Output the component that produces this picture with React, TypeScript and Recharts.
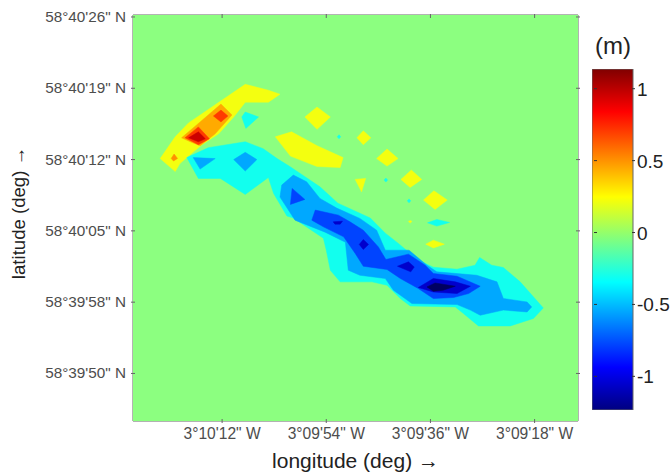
import { ComposedChart, Scatter, XAxis, YAxis } from "recharts";

// positions are arc-seconds: longitude = seconds west of 3 deg, latitude = seconds from 58 deg 40'
const lonTicks = [612, 594, 576, 558];
const lonLabels = ["3°10'12\" W", "3°09'54\" W", "3°09'36\" W", "3°09'18\" W"];
const latTicks = [26.4, 19.2, 12, 4.8, -2.4, -9.6];
const latLabels = ["58°40'26\" N", "58°40'19\" N", "58°40'12\" N", "58°40'05\" N", "58°39'58\" N", "58°39'50\" N"];
const lonDomain = [550.5, 627.4];
const latDomain = [-14.4, 26.6];

const barTicks = [-1, -0.5, 0, 0.5, 1];
const barDomain = [-1.234, 1.137];
const jetStops = ["#000080", "#0000ff", "#00ffff", "#ffff00", "#ff0000", "#800000"];
const jetOffsets = ["0%", "12.5%", "37.5%", "62.5%", "87.5%", "100%"];

const levelGreen = "#8cff80";
const levelYellow = "#f4ff10";
const levelOrange = "#ffaa00";
const levelRed = "#ff3a00";
const levelDarkRed = "#cc0000";
const levelCyan = "#12ffee";
const levelSky = "#00a8ff";
const levelBlue = "#0044ff";
const levelDeep = "#0000cc";
const levelNavy = "#000060";

const seabed = [[lonDomain[0], latDomain[0]], [lonDomain[1], latDomain[0]], [lonDomain[1], latDomain[1]], [lonDomain[0], latDomain[1]]];

const ridgeYellow = [[622.7, 12.1], [620.1, 14.3], [617.8, 15.7], [608, 19.6], [604, 19], [602, 18.6], [604, 17.8], [608, 17.8], [610, 16.3], [612.6, 14.6], [615.5, 13.5], [618.1, 12.2], [619.3, 11.6], [620.1, 10.8]];
const ridgeOrange = [[612.2, 17.6], [610.3, 16.5], [613.2, 14.6], [615.8, 13.4], [617.5, 13.8], [619, 14.2], [616.4, 15.5]];
const ridgeRedUpper = [[612.2, 17], [611, 16.4], [612.2, 15.8], [613.5, 16.4]];
const ridgeRedLower = [[616.1, 15.3], [614.2, 14.1], [616.1, 13.5], [618.4, 14.2]];
const ridgeCore = [[616.1, 14.8], [614.9, 14.1], [616.1, 13.8], [617.8, 14.2]];
const ridgeSpot = [[620.3, 12.56], [619.7, 12.12], [620.4, 11.85], [620.8, 12.12]];

const yellowBand = [[602.8, 14.3], [600, 14.8], [595.6, 13.4], [591.1, 12.2], [591.6, 11.2], [595.6, 11.3], [600.2, 12.35]];
const yellowDiamonds = [
  [[595.6, 17.3], [593.3, 16.3], [595.6, 15.05], [597.7, 16.3]],
  [[587.6, 14.9], [586.3, 14.2], [587.6, 13.5], [588.7, 14.2]],
  [[583.5, 13.06], [581.6, 12.1], [583.5, 11.34], [585.3, 12.1]],
  [[579.3, 10.94], [577.5, 10], [579.5, 9.19], [581.1, 10]],
  [[575.4, 8.85], [573.1, 7.91], [575.2, 6.97], [577.2, 7.91]],
  [[589, 10], [587.2, 10.1], [587.9, 8.74]],
  [[576.8, 3.46], [575.5, 3.86], [573.6, 3.46], [575.5, 3.08]],
  [[579.8, 5.75], [579.5, 5.85], [579.2, 5.75], [579.5, 5.6]],
];
const cyanSpecks = [
  [[608, 16.8], [605.7, 16.3], [607.9, 15.15], [608.6, 16.3]],
  [[576.5, 5.61], [574.9, 5.95], [572.7, 5.65], [574.9, 5.28]],
  [[592.1, 14.3], [591.8, 14.5], [591.5, 14.3], [591.8, 14.1]],
  [[584, 9.93], [583.7, 10.13], [583.4, 9.93], [583.7, 9.73]],
  [[580, 7.83], [579.7, 8.03], [579.4, 7.83], [579.7, 7.63]],
];

const troughCyan = [[618.1, 12.2], [614.4, 13.2], [608, 13.8], [604.9, 13.1], [602.5, 12.1], [600.3, 11.3], [598, 10.4], [595.1, 9.25], [592, 7.6], [586.4, 6.1], [583.8, 4.57], [581.6, 3.56], [578.1, 1.84], [575.5, 1.13], [571.4, 0.93], [568.3, 1.33], [567.5, 2.11], [565.4, 1.33], [563.4, 1.1], [560.5, -0.35], [556.5, -2.98], [558.2, -4.05], [562.2, -4.8], [567.7, -4.8], [570.3, -3.55], [571.7, -2.88], [579.5, -2.78], [581.2, -2.03], [583.5, -0.69], [586.1, -0.35], [591.6, -0.35], [593.3, 0.83], [594, 2.85], [594.5, 4.06], [599.7, 6.1], [600.8, 6.3], [603.1, 8.58], [604, 10.2], [608, 8.48], [612.3, 10.1], [616.1, 10.1]];
const troughSky = [[601.7, 9.42], [599.7, 10.43], [597.4, 9.76], [595.1, 8.08], [592.2, 7.1], [588.2, 6.06], [585.3, 4.87], [583.8, 2.85], [579.7, 2.85], [576.6, 1.33], [574.9, 0.66], [568, 0.32], [564.5, -0.35], [563.4, -2.03], [559.3, -2.38], [558.5, -2.88], [559.3, -3.39], [563.4, -3.2], [567.4, -3.72], [569.1, -3.2], [571.4, -2.64], [579.2, -2.54], [582.4, -1.19], [583.8, -0.01], [588.2, 0.32], [590.2, 0.83], [590.7, 3.66], [594.2, 4.67], [599.4, 5.88], [602, 8.21]];
const skyLeft = [[617, 12.2], [613.2, 12.1], [615.8, 11.04]];
const skyMiddle = [[608, 12.73], [606, 12], [608, 10.84], [610, 12]];
const troughBlue = [[595.9, 6.9], [591.9, 6.39], [589.9, 5.71], [587.6, 4.87], [585, 3.18], [583.7, 1.91], [579.8, 2.45], [576.9, 1.33], [575.5, 0.5], [571.4, 0.22], [567.4, -0.79], [569.4, -1.53], [572, -1.93], [575.5, -2.03], [578.1, -1.02], [581.2, -0.01], [583.5, 0.9], [587.6, 1.23], [589, 2.52], [591, 4.2], [594.5, 5.21], [596.5, 5.88]];
const blueTriangle = [[599.9, 9.09], [597.7, 7.98], [600.2, 7.47]];
const deepPatches = [
  [[592.8, 5.71], [591.2, 5.78], [591.6, 5.48], [592.5, 5.48]],
  [[587.6, 3.93], [586.7, 3.43], [587.6, 2.92], [588.3, 3.43]],
  [[581.7, 1.23], [579.8, 1.67], [578.8, 1.16], [579.4, 0.66]],
  [[578.1, -0.92], [575.5, -0.01], [571.7, -0.35], [569.1, -0.79], [571.4, -1.53], [575.5, -1.37]],
];
const navyCore = [[576.6, -0.86], [575.2, -0.46], [571.7, -0.79], [573.8, -1.19], [575.5, -1.3]];

const layers: { points: number[][]; color: string }[] = [
  { points: seabed, color: levelGreen },
  { points: ridgeYellow, color: levelYellow },
  { points: ridgeOrange, color: levelOrange },
  { points: ridgeRedUpper, color: levelRed },
  { points: ridgeRedLower, color: levelRed },
  { points: ridgeCore, color: levelDarkRed },
  { points: ridgeSpot, color: "#ff9000" },
  { points: yellowBand, color: levelYellow },
  ...yellowDiamonds.map((points) => ({ points, color: levelYellow })),
  ...cyanSpecks.map((points) => ({ points, color: levelCyan })),
  { points: troughCyan, color: levelCyan },
  { points: skyLeft, color: levelSky },
  { points: skyMiddle, color: levelSky },
  { points: troughSky, color: levelSky },
  { points: troughBlue, color: levelBlue },
  { points: blueTriangle, color: levelBlue },
  ...deepPatches.map((points) => ({ points, color: levelDeep })),
  { points: navyCore, color: levelNavy },
];

const barOutline = [[0, barDomain[0]], [1, barDomain[0]], [1, barDomain[1]], [0, barDomain[1]]];

const frameColor = "#666666";
const tickColor = "#4d4d4d";
const font = "'Liberation Sans', Arial, sans-serif";

const closed = (points: number[][]) => [...points, points[0]].map(([x, y]) => ({ x, y }));

function BottomTick(props: any) {
  const { x, y, payload } = props;
  return (
    <g>
      <line x1={x} y1={y} x2={x} y2={y - 4} stroke={frameColor} />
      <text x={x} y={y + 16} textAnchor="middle" fontSize={15.6} fontFamily={font} fill={tickColor}>
        {lonLabels[lonTicks.indexOf(payload.value)]}
      </text>
    </g>
  );
}

function LeftTick(props: any) {
  const { x, y, payload } = props;
  return (
    <g>
      <line x1={x} y1={y} x2={x + 4} y2={y} stroke={frameColor} />
      <text x={x - 5} y={y + 5} textAnchor="end" fontSize={15.3} fontFamily={font} fill={tickColor}>
        {latLabels[latTicks.indexOf(payload.value)]}
      </text>
    </g>
  );
}

const TopTick = ({ x, y }: any) => <line x1={x} y1={y + 1} x2={x} y2={y + 5} stroke={frameColor} />;
const RightTick = ({ x, y }: any) => <line x1={x} y1={y} x2={x - 4} y2={y} stroke={frameColor} />;

function BarTick(props: any) {
  const { x, y, payload } = props;
  return (
    <g>
      <line x1={x} y1={y} x2={x - 3} y2={y} stroke="#333333" />
      <line x1={x - 41} y1={y} x2={x - 38} y2={y} stroke="#333333" />
      <text x={x + 2} y={y + 7} fontSize={19} fontFamily={font} fill="#222222">
        {payload.value}
      </text>
    </g>
  );
}

export default function App() {
  return (
    <div style={{ position: "absolute", left: 0, top: 0, width: 670, height: 472, background: "#ffffff" }}>
      <ComposedChart width={670} height={472} margin={{ top: 14, right: 91, bottom: 0, left: 3 }}>
        <XAxis
          xAxisId="bottom"
          type="number"
          dataKey="x"
          domain={lonDomain}
          reversed
          allowDataOverflow
          ticks={lonTicks}
          interval={0}
          height={51}
          tickSize={0}
          tickLine={false}
          axisLine={{ stroke: frameColor }}
          tick={<BottomTick />}
          label={{ value: "longitude (deg) →", position: "insideBottom", offset: 4, fontSize: 21, fontFamily: font, fill: "#222222" }}
        />
        <XAxis
          xAxisId="top"
          orientation="top"
          type="number"
          dataKey="x"
          domain={lonDomain}
          reversed
          allowDataOverflow
          ticks={lonTicks}
          interval={0}
          height={1}
          tickSize={0}
          tickLine={false}
          axisLine={{ stroke: frameColor }}
          tick={<TopTick />}
        />
        <YAxis
          yAxisId="left"
          type="number"
          dataKey="y"
          domain={latDomain}
          allowDataOverflow
          ticks={latTicks}
          interval={0}
          width={130}
          tickSize={0}
          tickLine={false}
          axisLine={{ stroke: frameColor }}
          tick={<LeftTick />}
          label={{ value: "latitude (deg) →", angle: -90, position: "insideLeft", offset: 15, dy: -5, fontSize: 18.6, fontFamily: font, fill: "#222222", style: { textAnchor: "middle" } }}
        />
        <YAxis
          yAxisId="right"
          orientation="right"
          type="number"
          dataKey="y"
          domain={latDomain}
          allowDataOverflow
          ticks={latTicks}
          interval={0}
          width={1}
          tickSize={0}
          tickLine={false}
          axisLine={{ stroke: frameColor }}
          tick={<RightTick />}
        />
        {layers.map((layer, i) => (
          <Scatter
            key={i}
            xAxisId="bottom"
            yAxisId="left"
            data={closed(layer.points)}
            isAnimationActive={false}
            fill={layer.color}
            line={{ fill: layer.color, stroke: layer.color, strokeWidth: 0.5 }}
            shape={() => <g />}
          />
        ))}
        <Scatter xAxisId="top" yAxisId="right" data={closed(seabed)} isAnimationActive={false} fill="none" shape={() => <g />} />
      </ComposedChart>
      <div style={{ position: "absolute", left: 595, top: 32, fontFamily: font, fontSize: 24, color: "#222222" }}>(m)</div>
      <div style={{ position: "absolute", left: 592, top: 69, width: 78, height: 341 }}>
        <ComposedChart width={78} height={341} margin={{ top: 0, right: 36, bottom: 0, left: 0 }}>
          <defs>
            <linearGradient id="jet" x1="0" y1="1" x2="0" y2="0">
              {jetStops.map((c, i) => (
                <stop key={c} offset={jetOffsets[i]} stopColor={c} />
              ))}
            </linearGradient>
          </defs>
          <XAxis type="number" dataKey="x" domain={[0, 1]} hide />
          <YAxis
            orientation="right"
            type="number"
            dataKey="y"
            domain={barDomain}
            allowDataOverflow
            ticks={barTicks}
            interval={0}
            width={1}
            tickSize={0}
            tickLine={false}
            axisLine={false}
            tick={<BarTick />}
          />
          <Scatter
            data={closed(barOutline)}
            isAnimationActive={false}
            fill="none"
            line={{ fill: "url(#jet)", stroke: frameColor, strokeWidth: 1 }}
            shape={() => <g />}
          />
        </ComposedChart>
      </div>
    </div>
  );
}
